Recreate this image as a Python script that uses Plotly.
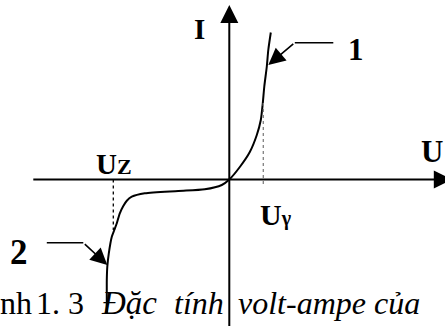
import plotly.graph_objects as go

# ---- data: diode volt-ampere characteristic (U in V, I in mA, arbitrary scale) ----
U_curve = [-2.45, -2.45, -2.45, -2.44, -2.41, -2.35, -2.30, -2.25, -2.19, -2.12, -2.05,
           -1.95, -1.69, -1.02, -0.49, -0.15, 0.0,
           0.21, 0.41, 0.55, 0.63, 0.67, 0.70, 0.75, 0.78, 0.83]
I_curve = [-13.35, -12.05, -10.05, -8.72, -7.38, -5.72, -5.05, -4.38, -3.38, -2.65, -2.12,
           -1.72, -1.38, -1.15, -0.98, -0.55, 0.0,
           1.25, 2.75, 4.45, 5.95, 7.65, 9.3, 11.3, 12.95, 14.7]

U_gamma = 0.68          # threshold voltage marker
I_gamma_span = [7.65, -0.55]
U_z = -2.32             # zener voltage marker
I_z_span = [0.0, -5.05]

# pointer leaders (label 1: forward branch, label 2: breakdown branch)
lead1_x = [2.08, 1.31]
lead1_y = [13.68, 13.68]
lead1_tip = (0.78, 11.45)
lead2_x = [-3.65, -2.92]
lead2_y = [-6.32, -6.32]
lead2_tip = (-2.44, -8.55)

X_RANGE = [-4.586, 4.314]
Y_RANGE = [-14.65, 17.95]

SERIF = "Liberation Serif, Times New Roman, serif"

fig = go.Figure()

fig.add_trace(go.Scatter(x=U_curve, y=I_curve, mode="lines",
                         line=dict(color="black", width=2, shape="spline", smoothing=0.7),
                         hoverinfo="skip"))
fig.add_trace(go.Scatter(x=[U_gamma, U_gamma], y=I_gamma_span, mode="lines",
                         line=dict(color="#808080", width=1.3, dash="dot"), hoverinfo="skip"))
fig.add_trace(go.Scatter(x=[U_z, U_z], y=I_z_span, mode="lines",
                         line=dict(color="black", width=1.3, dash="dot"), hoverinfo="skip"))
fig.add_trace(go.Scatter(x=lead1_x, y=lead1_y, mode="lines",
                         line=dict(color="black", width=1.6), hoverinfo="skip"))
fig.add_trace(go.Scatter(x=lead2_x, y=lead2_y, mode="lines",
                         line=dict(color="black", width=1.6), hoverinfo="skip"))

ann = []
# axes with arrowheads
ann.append(dict(x=0, y=17.45, ax=0, ay=-15.5, xref="x", yref="y", axref="x", ayref="y",
                text="", showarrow=True, arrowhead=2, arrowsize=1.8, arrowwidth=2, arrowcolor="black"))
ann.append(dict(x=4.45, y=0, ax=-3.95, ay=0, xref="x", yref="y", axref="x", ayref="y",
                text="", showarrow=True, arrowhead=2, arrowsize=1.8, arrowwidth=2, arrowcolor="black"))
# leader arrows
ann.append(dict(x=lead1_tip[0], y=lead1_tip[1], ax=lead1_x[1], ay=lead1_y[1], xref="x", yref="y",
                axref="x", ayref="y", text="", showarrow=True, arrowhead=2, arrowsize=2.1,
                arrowwidth=1.6, arrowcolor="black"))
ann.append(dict(x=lead2_tip[0], y=lead2_tip[1], ax=lead2_x[1], ay=lead2_y[1], xref="x", yref="y",
                axref="x", ayref="y", text="", showarrow=True, arrowhead=2, arrowsize=2.1,
                arrowwidth=1.6, arrowcolor="black"))

def label(x, y, text, size, xanchor="center", italic=False, bold=True, xshift=0):
    return dict(x=x, y=y, xref="x", yref="y", text=text, showarrow=False,
                xanchor=xanchor, yanchor="middle", xshift=xshift,
                font=dict(family=SERIF, size=size, color="black",
                          weight="bold" if bold else "normal",
                          style="italic" if italic else "normal"))

ann.append(label(-0.606, 15.1, "I", 29))
ann.append(label(2.53, 13.0, "1", 31))
ann.append(label(-4.21, -7.25, "2", 35))
ann.append(label(X_RANGE[1], 2.85, "U", 31, xanchor="right"))
ann.append(label(-2.70, 1.6, "U<span style='font-size:22px'>Z</span>", 29, xanchor="left"))
ann.append(label(0.58, -3.5, "U<span style='font-size:20px'>γ</span>", 30, xanchor="left"))
# caption
ann.append(label(X_RANGE[0], -12.35, "nh", 32, xanchor="left", bold=False, xshift=-2))
ann.append(label(-3.90, -12.35, "1. 3", 32, xanchor="left", bold=False))
ann.append(label(-2.60, -12.35, "Đặc", 33, xanchor="left", bold=False, italic=True))
ann.append(label(-1.14, -12.35, "tính", 32, xanchor="left", bold=False, italic=True))
ann.append(label(0.14, -12.35, "volt-ampe của", 32, xanchor="left", bold=False, italic=True))

fig.update_layout(
    width=445, height=326,
    margin=dict(l=0, r=0, t=0, b=0),
    paper_bgcolor="white", plot_bgcolor="white",
    showlegend=False,
    xaxis=dict(range=X_RANGE, visible=False, fixedrange=True),
    yaxis=dict(range=Y_RANGE, visible=False, fixedrange=True),
    annotations=ann,
)

fig.write_html("out.html", post_script="document.body.style.margin='0px';",
               config={"displayModeBar": False})
